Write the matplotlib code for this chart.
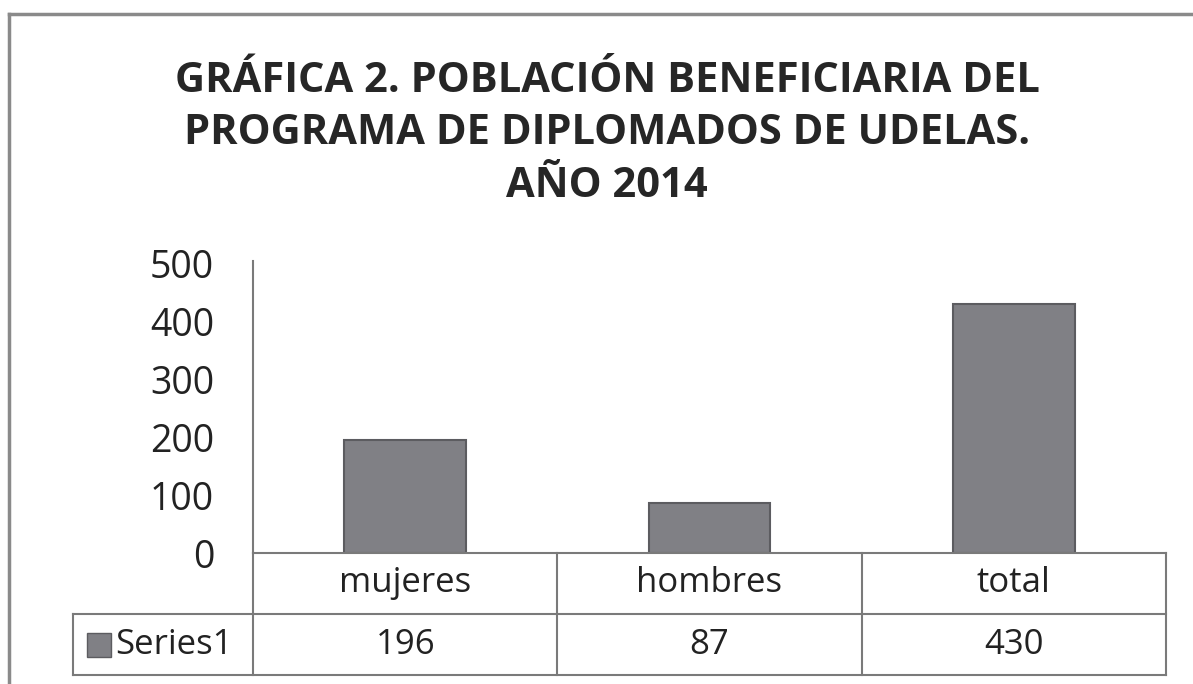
import matplotlib.pyplot as plt
from matplotlib.patches import Rectangle
from matplotlib.lines import Line2D
import matplotlib.transforms as mtransforms

categories = ['mujeres', 'hombres', 'total']
values = [196, 87, 430]
series_name = 'Series1'
yticks = [0, 100, 200, 300, 400, 500]
title = 'GRÁFICA 2. POBLACIÓN BENEFICIARIA DEL\nPROGRAMA DE DIPLOMADOS DE UDELAS.\nAÑO 2014'

plt.rcParams['font.family'] = ['Open Sans', 'DejaVu Sans']

W, H = 1193, 684
fig = plt.figure(figsize=(W / 100, H / 100), dpi=100)

bar_color = '#808085'
edge_color = '#5c5c60'
line_color = '#7a7a7a'
text_color = '#222222'

# outer frame (only top/left visible)
fig.add_artist(Line2D([9 / W, 9 / W], [0, 1 - 14 / H], transform=fig.transFigure,
                      color='#8a8a8a', lw=2.5))
fig.add_artist(Line2D([9 / W, 1], [1 - 14 / H, 1 - 14 / H], transform=fig.transFigure,
                      color='#8a8a8a', lw=2.5))

fig.text(607 / W, 1 - 134 / H, title, ha='center', va='center', fontsize=30,
         fontweight='bold', color='#262626', linespacing=1.36)

x0, x1 = 253, 1166
y0, y1 = 553, 264
ax = fig.add_axes([x0 / W, 1 - y0 / H, (x1 - x0) / W, (y0 - y1) / H])
ax.bar(range(len(values)), values, width=0.4, color=bar_color,
       edgecolor=edge_color, linewidth=1.5)
ax.set_xlim(-0.5, len(values) - 0.5)
ax.set_ylim(0, 500)
ax.set_yticks(yticks)
ax.set_yticklabels([str(v) for v in yticks], fontsize=27, color=text_color)
ax.tick_params(axis='y', length=0, pad=28)
ax.set_xticks([])
for s in ['top', 'right']:
    ax.spines[s].set_visible(False)
ax.spines['left'].set_color(line_color)
ax.spines['left'].set_linewidth(1.5)
ax.spines['left'].set_bounds(0, 505)
ax.spines['bottom'].set_color(line_color)
ax.spines['bottom'].set_linewidth(1.5)

# data table below the axis
row_h = 61 / (y0 - y1)  # in axes fraction
trans = mtransforms.blended_transform_factory(ax.transData, ax.transAxes)
lw = 1.5
legend_left = -0.5 - (253 - 73) / ((x1 - x0) / 3)
n = len(values)
# horizontal lines
for yy, xl in [(-row_h, legend_left), (-2 * row_h, legend_left)]:
    ax.add_line(Line2D([xl, n - 0.5], [yy, yy], transform=trans, color=line_color,
                       lw=lw, clip_on=False))
# vertical lines
for i in range(n + 1):
    ax.add_line(Line2D([i - 0.5, i - 0.5], [0, -2 * row_h], transform=trans,
                       color=line_color, lw=lw, clip_on=False))
ax.add_line(Line2D([legend_left, legend_left], [-row_h, -2 * row_h], transform=trans,
                   color=line_color, lw=lw, clip_on=False))

for i, (c, v) in enumerate(zip(categories, values)):
    ax.text(i, -0.5 * row_h, c, transform=trans, ha='center', va='center',
            fontsize=25, color=text_color)
    ax.text(i, -1.5 * row_h, str(v), transform=trans, ha='center', va='center',
            fontsize=25, color=text_color)

# legend key inside the table
sq = 24 / ((x1 - x0) / 3)
ax.add_patch(Rectangle((legend_left + 14 / ((x1 - x0) / 3), -1.5 * row_h - 12 / (y0 - y1)),
                       sq, 24 / (y0 - y1), transform=trans, facecolor=bar_color,
                       edgecolor=edge_color, lw=1, clip_on=False))
ax.text(legend_left + 42 / ((x1 - x0) / 3), -1.5 * row_h, series_name, transform=trans,
        ha='left', va='center', fontsize=25, color=text_color)

fig.savefig('out.png', dpi=100)
